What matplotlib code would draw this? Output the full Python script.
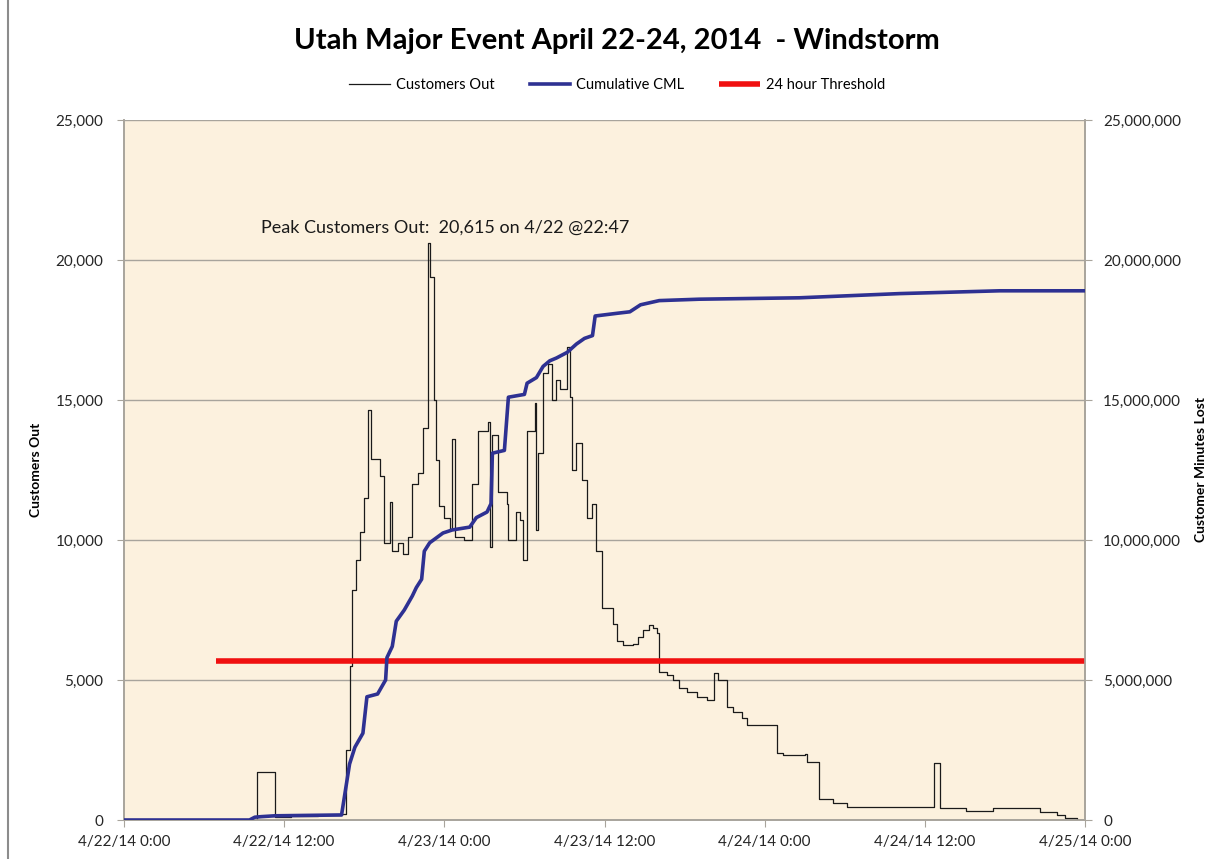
"""Utah major event windstorm: customers out vs cumulative customer minutes lost."""

import numpy as np
import matplotlib
matplotlib.use('Agg')
import matplotlib.pyplot as plt
from matplotlib.patches import Rectangle
from matplotlib.ticker import FuncFormatter, MultipleLocator

plt.rcParams['font.family'] = ['Lato', 'DejaVu Sans']

# hours since 4/22/14 0:00 and customers out (step data)
out_hours = [0, 10.0, 11.3, 12.5, 14.5, 16.3, 16.6, 16.9, 17.1, 17.4,
             17.7, 18.0, 18.3, 18.5, 19.2, 19.5, 19.9, 20.1, 20.5, 20.9,
             21.3, 21.6, 22.0, 22.4, 22.78, 22.95, 23.2, 23.4, 23.6, 24.0,
             24.4, 24.6, 24.8, 25.5, 26.1, 26.5, 27.3, 27.4, 27.6, 28.0,
             28.7, 28.8, 29.4, 29.7, 29.9, 30.2, 30.8, 30.9, 31.0, 31.4,
             31.8, 32.1, 32.4, 32.7, 33.2, 33.4, 33.6, 33.9, 34.3, 34.7,
             35.1, 35.4, 35.8, 36.6, 36.9, 37.4, 38.1, 38.5, 38.9, 39.3,
             39.6, 39.9, 40.1, 40.7, 41.1, 41.6, 42.2, 42.9, 43.7, 44.2,
             44.5, 45.2, 45.6, 46.3, 46.7, 48.9, 49.4, 51.0, 51.2, 52.1,
             53.1, 54.2, 60.7, 61.1, 63.1, 65.1, 68.6, 69.9, 70.5, 71.4,
             72]
customers_out = [0, 1700, 120, 150, 180, 200, 2500, 5500, 8200, 9300,
                 10300, 11500, 14650, 12900, 12300, 9900, 11350, 9600, 9900, 9500,
                 10100, 12000, 12400, 14000, 20615, 19400, 15000, 12850, 11200, 10800,
                 10400, 13600, 10100, 10000, 12000, 13900, 14200, 9750, 13750, 11700,
                 11300, 10000, 11000, 10700, 9300, 13900, 14900, 10350, 13100, 15950,
                 16300, 15000, 15700, 15400, 16900, 15100, 12500, 13450, 12150, 10800,
                 11300, 9600, 7570, 7000, 6400, 6250, 6300, 6550, 6780, 6960,
                 6850, 6680, 5290, 5180, 5000, 4710, 4570, 4400, 4290, 5250,
                 5000, 4040, 3860, 3640, 3400, 2390, 2320, 2350, 2070, 750,
                 600, 470, 2030, 420, 320, 420, 290, 180, 70, 0,
                 0]

# cumulative customer minutes lost
cml_hours = [0, 9.4, 9.8, 10.3, 11.3, 16.3, 16.9, 17.3, 17.9, 18.2,
             19.0, 19.6, 19.7, 20.1, 20.4, 21.0, 21.6, 21.9, 22.3, 22.5,
             22.9, 23.9, 24.6, 25.9, 26.4, 27.2, 27.5, 27.6, 28.5, 28.8,
             30.0, 30.2, 30.9, 31.4, 31.9, 32.4, 33.2, 33.9, 34.5, 35.1,
             35.3, 37.0, 37.9, 38.7, 40.1, 43.1, 50.6, 58.1, 65.6, 72]
cml = [0, 0, 0.10e6, 0.12e6, 0.15e6, 0.18e6, 2.0e6, 2.6e6, 3.1e6, 4.4e6,
       4.5e6, 5.0e6, 5.8e6, 6.2e6, 7.1e6, 7.5e6, 8.0e6, 8.3e6, 8.6e6, 9.6e6,
       9.9e6, 10.25e6, 10.36e6, 10.46e6, 10.8e6, 11.0e6, 11.3e6, 13.1e6, 13.2e6, 15.1e6,
       15.2e6, 15.6e6, 15.8e6, 16.2e6, 16.4e6, 16.5e6, 16.7e6, 17.0e6, 17.2e6, 17.3e6,
       18.0e6, 18.1e6, 18.15e6, 18.4e6, 18.55e6, 18.6e6, 18.65e6, 18.8e6, 18.9e6, 18.9e6]

threshold_hours = [6.9, 72]
threshold = [5680, 5680]

tick_hours = [0, 12, 24, 36, 48, 60, 72]
tick_labels = ['4/22/14 0:00', '4/22/14 12:00', '4/23/14 0:00', '4/23/14 12:00',
               '4/24/14 0:00', '4/24/14 12:00', '4/25/14 0:00']

assert len(out_hours) == len(customers_out)
assert len(cml_hours) == len(cml)

W, H = 1220, 859
fig = plt.figure(figsize=(W / 100, H / 100), dpi=100)
ax = fig.add_axes([124 / W, 1 - 820 / H, (1085 - 124) / W, (820 - 120) / H])
ax2 = ax.twinx()

ax.set_facecolor('#FCF1DE')
grid_c = '#A8A49C'

# outer chart border
fig.add_artist(Rectangle((8 / W, -0.2), 1.2, 1.2 + (1 - 4 / H), transform=fig.transFigure,
                         fill=False, edgecolor='#8C8C8C', linewidth=1.5))

ax.plot(out_hours, customers_out, drawstyle='steps-post', color='#1A1A1A', lw=0.9,
        label='Customers Out', zorder=3)
ax2.plot(cml_hours, cml, color='#2E3192', lw=2.6, label='Cumulative CML', zorder=3)
ax.plot(threshold_hours, threshold, color='#F01010', lw=4, label='24 hour Threshold',
        solid_capstyle='butt', zorder=4)

ax.set_xlim(0, 72)
ax.set_ylim(0, 25000)
ax2.set_ylim(0, 25000000)
ax.set_xticks(tick_hours)
ax.set_xticklabels(tick_labels)
ax.yaxis.set_major_locator(MultipleLocator(5000))
ax2.yaxis.set_major_locator(MultipleLocator(5000000))
ax.yaxis.set_major_formatter(FuncFormatter(lambda v, p: f'{int(v):,}'))
ax2.yaxis.set_major_formatter(FuncFormatter(lambda v, p: f'{int(v):,}'))
ax.grid(axis='y', color=grid_c, lw=1)
ax.set_axisbelow(True)

for a in (ax, ax2):
    a.spines['top'].set_visible(False)
    for s in ('left', 'right', 'bottom'):
        a.spines[s].set_color(grid_c)
        a.spines[s].set_linewidth(1.2)
    a.tick_params(direction='out', length=5, color=grid_c, labelsize=11, labelcolor='#262626')
ax.tick_params(axis='y', pad=10)
ax2.tick_params(axis='y', pad=8)
ax.tick_params(axis='x', pad=6)

ax.set_ylabel('Customers Out', fontsize=10, fontweight='bold')
ax.yaxis.set_label_coords((42 - 124) / 961, 0.5)
ax2.set_ylabel('Customer Minutes Lost', fontsize=10, fontweight='bold', rotation=90)
ax2.yaxis.set_label_coords((1195 - 124) / 961, 0.5)

ax.text(10.3, 21140, 'Peak Customers Out:  20,615 on 4/22 @22:47', fontsize=13,
        ha='left', va='center', color='#1A1A1A')

fig.text(0.506, 1 - 41 / H, 'Utah Major Event April 22-24, 2014  - Windstorm',
         fontsize=21, fontweight='bold', ha='center', va='center')

handles = ax.get_lines() + ax2.get_lines()
handles = [handles[0], handles[2], handles[1]]
fig.legend(handles, [h.get_label() for h in handles], loc='center',
           bbox_to_anchor=(0.506, 1 - 85 / H), ncol=3, frameon=False, fontsize=10.5,
           handlelength=2.8, columnspacing=2.4, handletextpad=0.4)

fig.savefig('out.png', dpi=100)
